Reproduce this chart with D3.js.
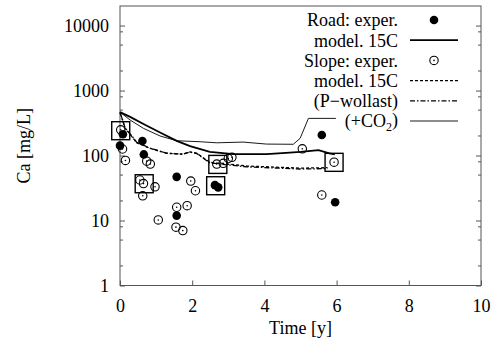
<!DOCTYPE html>
<html>
<head>
<meta charset="utf-8">
<script src="https://cdn.jsdelivr.net/npm/d3@7"></script>
<style>
  html, body { margin: 0; padding: 0; background: #fff; }
  svg { display: block; }
</style>
</head>
<body>
<svg id="chart" width="496" height="347"></svg>
<script>
// Calcium concentration over time: road and slope sites, measured vs modelled.

// Axis ticks
const xTicks = [0, 2, 4, 6, 8, 10];
const yTicks = [1, 10, 100, 1000, 10000];
const yTickLabels = ["1", "10", "100", "1000", "10000"];

// Road site measurements (time [y], Ca [mg/L])
const roadTime = [0.08, 0.0, 0.62, 0.66, 1.57, 1.57, 2.63, 2.72, 5.59, 5.96];
const roadCa   = [212, 142, 167, 104, 47, 11.9, 35, 32.4, 207, 19.1];

// Slope site measurements
const slopeTime = [0.02, 0.07, 0.15, 0.74, 0.84, 2.68, 2.86, 3.0, 3.1, 5.05, 5.93,
                   0.55, 0.65, 0.97, 0.63, 1.96, 2.09, 1.57, 1.86, 1.06, 1.55, 1.74, 5.59];
const slopeCa   = [249, 126, 84, 82, 74, 74, 76, 90, 94, 127, 79,
                   42, 37, 33, 24, 40.5, 28.7, 16, 16.9, 10.2, 7.9, 7.0, 24.7];

// Highlighted samples (boxed)
const boxTime = [0.02, 0.67, 2.71, 2.65, 5.93];
const boxCa   = [241, 36.8, 73, 34.3, 78.6];

// Road model, 15C
const roadModelTime = [0, 0.28, 0.65, 1.11, 1.57, 1.94, 2.49, 3.14, 4.06, 4.6, 5.0, 5.5, 5.8, 5.95];
const roadModelCa   = [466, 393, 305, 226, 168, 140, 114, 105, 105, 110, 114, 121, 108, 104];

// Slope model, 15C
const slopeModelTime = [0, 0.05, 0.14, 0.28, 0.46, 0.83, 1.29, 1.75, 1.94, 2.13, 2.49, 2.96, 3.51, 4.99, 5.75];
const slopeModelCa   = [460, 380, 262, 212, 158, 129, 108, 105, 114, 108, 78.5, 74, 69, 64, 65];

// Slope model, P-wollast variant
const wollastTime = [0, 0.05, 0.14, 0.28, 0.46, 0.83, 1.29, 1.75, 1.94, 2.13, 2.49, 2.96, 3.51, 4.99, 5.75];
const wollastCa   = [460, 385, 268, 216, 160, 130, 109, 105, 113, 107, 77, 72, 67, 62, 63];

// Slope model, +CO2 variant
const co2Time = [0, 0.28, 0.65, 1.11, 1.57, 2.22, 2.68, 3.41, 4.06, 4.8, 4.99, 5.22, 5.98];
const co2Ca   = [466, 352, 262, 200, 169, 163, 157, 161, 150, 149, 184, 373, 373];

const FONT = "Liberation Serif";
const svg = d3.select("#chart");
const x = d3.scaleLinear().domain([0, 10]).range([120, 481]);
const y = d3.scaleLog().domain([1, 20000]).range([285.5, 6]);
const axisColor = "#555";

// Plot frame
svg.append("rect")
  .attr("x", x(0)).attr("y", y(20000))
  .attr("width", x(10) - x(0)).attr("height", y(1) - y(20000))
  .attr("fill", "none").attr("stroke", axisColor).attr("stroke-width", 1);

// Bottom axis: inward ticks
const xAxis = d3.axisBottom(x).tickValues(xTicks).tickFormat(d3.format("d"))
  .tickSizeInner(-5).tickSizeOuter(0).tickPadding(14);
const gx = svg.append("g").attr("transform", `translate(0,${y(1)})`).call(xAxis)
  .attr("font-family", FONT).attr("font-size", 18);
gx.select(".domain").remove();
gx.selectAll(".tick line").attr("stroke", axisColor);
gx.selectAll(".tick text").attr("dy", "0.71em").attr("fill", "#000");

// Minor log ticks (2, 5, 8 per decade) mirrored on both vertical sides
const minorY = [];
for (let p = 0; p < 5; p++) [2, 5, 8].forEach(m => {
  const v = m * Math.pow(10, p);
  if (v > 1 && v < 20000) minorY.push(v);
});

// Left axis
const yAxisL = d3.axisLeft(y).tickValues(yTicks).tickFormat((d, i) => yTickLabels[i])
  .tickSizeInner(-5).tickSizeOuter(0).tickPadding(11);
const gyl = svg.append("g").attr("transform", `translate(${x(0)},0)`).call(yAxisL)
  .attr("font-family", FONT).attr("font-size", 18);
gyl.select(".domain").remove();
gyl.selectAll(".tick line").attr("stroke", axisColor);
gyl.selectAll(".tick text").attr("fill", "#000");

// Right axis (ticks only)
const yAxisR = d3.axisRight(y).tickValues(yTicks).tickFormat("")
  .tickSizeInner(-5).tickSizeOuter(0);
const gyr = svg.append("g").attr("transform", `translate(${x(10)},0)`).call(yAxisR);
gyr.select(".domain").remove();
gyr.selectAll(".tick line").attr("stroke", axisColor);

[[x(0), 3], [x(10), -3]].forEach(([px, len]) => {
  svg.append("g").selectAll("line").data(minorY).join("line")
    .attr("x1", px).attr("x2", px + len)
    .attr("y1", d => y(d)).attr("y2", d => y(d))
    .attr("stroke", axisColor).attr("stroke-width", 1);
});

// Axis titles
svg.append("text").attr("x", (x(0) + x(10)) / 2).attr("y", 334)
  .attr("text-anchor", "middle").attr("font-size", 18).attr("font-family", FONT).text("Time [y]");
svg.append("text")
  .attr("transform", `translate(30,${(y(1) + y(20000)) / 2}) rotate(-90)`)
  .attr("text-anchor", "middle").attr("font-size", 18).attr("font-family", FONT).text("Ca [mg/L]");

// Model curves
const line = d3.line().x(d => x(d[0])).y(d => y(d[1]));
const zip = (a, b) => a.map((t, i) => [t, b[i]]);

const curves = [
  { t: co2Time, v: co2Ca, w: 0.9, dash: null },
  { t: slopeModelTime, v: slopeModelCa, w: 1.3, dash: "3,2" },
  { t: wollastTime, v: wollastCa, w: 1.3, dash: "5,2,1.5,2" },
  { t: roadModelTime, v: roadModelCa, w: 1.8, dash: null }
];
curves.forEach(c => {
  svg.append("path").datum(zip(c.t, c.v)).attr("d", line)
    .attr("fill", "none").attr("stroke", "#000")
    .attr("stroke-width", c.w).attr("stroke-dasharray", c.dash);
});

// Boxes around highlighted samples
const box = 18;
svg.append("g").selectAll("rect").data(zip(boxTime, boxCa)).join("rect")
  .attr("x", d => x(d[0]) - box / 2).attr("y", d => y(d[1]) - box / 2)
  .attr("width", box).attr("height", box)
  .attr("fill", "none").attr("stroke", "#000").attr("stroke-width", 1.4);

// Slope measurements: open circle with centre dot
const slopeG = svg.append("g").selectAll("g").data(zip(slopeTime, slopeCa)).join("g")
  .attr("transform", d => `translate(${x(d[0])},${y(d[1])})`);
slopeG.append("circle").attr("r", 4.2).attr("fill", "none").attr("stroke", "#000").attr("stroke-width", 1.1);
slopeG.append("circle").attr("r", 0.8).attr("fill", "#000");

// Road measurements: filled circles
svg.append("g").selectAll("circle").data(zip(roadTime, roadCa)).join("circle")
  .attr("cx", d => x(d[0])).attr("cy", d => y(d[1])).attr("r", 4.3).attr("fill", "#000");

// Legend
const legend = [
  { label: "Road: exper.", kind: "filled" },
  { label: "model. 15C", kind: "line", w: 1.8, dash: null },
  { label: "Slope: exper.", kind: "open" },
  { label: "model. 15C", kind: "line", w: 1.3, dash: "3,2" },
  { label: "(P\u2212wollast)", kind: "line", w: 1.3, dash: "5,2,1.5,2" },
  { label: "(+CO2)", kind: "line", w: 0.9, dash: null }
];
const lg = svg.append("g").selectAll("g").data(legend).join("g")
  .attr("transform", (d, i) => `translate(0,${20 + i * 20.2})`);
lg.each(function (d) {
  const g = d3.select(this);
  const t = g.append("text").attr("x", 398).attr("y", 0).attr("dy", "0.35em")
    .attr("text-anchor", "end").attr("font-size", 18).attr("font-family", FONT);
  if (d.label === "(+CO2)") {
    t.append("tspan").text("(+CO");
    t.append("tspan").attr("font-size", 12).attr("dy", "0.3em").text("2");
    t.append("tspan").attr("dy", "-0.3em").text(")");
  } else {
    t.text(d.label);
  }
  if (d.kind === "filled") {
    g.append("circle").attr("cx", 434).attr("cy", 0).attr("r", 4.3).attr("fill", "#000");
  } else if (d.kind === "open") {
    g.append("circle").attr("cx", 434).attr("cy", 0).attr("r", 4.2)
      .attr("fill", "none").attr("stroke", "#000").attr("stroke-width", 1.1);
    g.append("circle").attr("cx", 434).attr("cy", 0).attr("r", 0.8).attr("fill", "#000");
  } else {
    g.append("line").attr("x1", 410).attr("x2", 458).attr("y1", 0).attr("y2", 0)
      .attr("stroke", "#000").attr("stroke-width", d.w).attr("stroke-dasharray", d.dash);
  }
});
</script>
</body>
</html>
